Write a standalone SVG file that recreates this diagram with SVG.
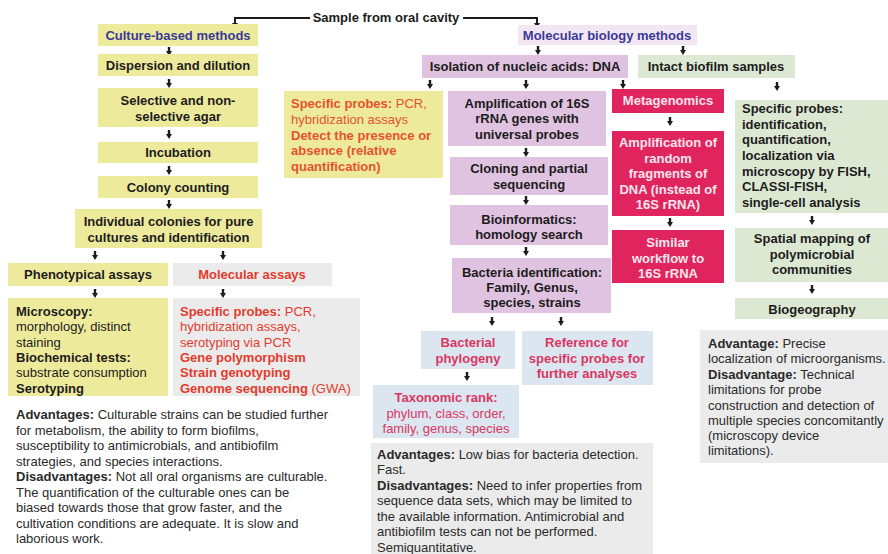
<svg xmlns="http://www.w3.org/2000/svg" xmlns:xlink="http://www.w3.org/1999/xlink" width="888" height="554" viewBox="0 0 888 554">
<style>
text{font-family:"Liberation Sans",Arial,sans-serif;font-size:13px;fill:#1c1c1c}
.c{text-anchor:middle}
.b{font-weight:bold}
.blue{fill:#3a3a98}
.org{fill:#e5532b}
.red{fill:#e23b2e}
.crim{fill:#d93660}
.wh{fill:#fbe6ec}
.body{fill:#2a2a2a}
.yel{fill:#eeea9c}
.lil{fill:#e0c3e0}
.lil2{fill:#f2e6f2}
.grn{fill:#dde8d3}
.pink{fill:#e0245e}
.lb{fill:#dce6f1}
.gry{fill:#ebebeb}
.ln{fill:none;stroke:#1c1c1c;stroke-width:2}
</style>
<defs>
<path id="arr" d="M-1.2,0 H1.2 V4 H3 L0,9 L-3,4 H-1.2 Z" fill="#1c1c1c"/>
</defs>
<rect width="888" height="554" fill="#ffffff"/>

<g id="connectors">
<path class="ln" d="M235,27 V18 H310"/>
<path class="ln" d="M463,18 H537 V27"/>
<path d="M232,23 H238 L235,28 Z" fill="#1c1c1c"/>
<path d="M534,23 H540 L537,28 Z" fill="#1c1c1c"/>
<use xlink:href="#arr" x="169" y="47"/>
<use xlink:href="#arr" x="169" y="79"/>
<use xlink:href="#arr" x="169" y="130"/>
<use xlink:href="#arr" x="169" y="166"/>
<use xlink:href="#arr" x="169" y="200"/>
<use xlink:href="#arr" x="95" y="251"/>
<use xlink:href="#arr" x="223" y="251"/>
<use xlink:href="#arr" x="95" y="289"/>
<use xlink:href="#arr" x="223" y="289"/>
<use xlink:href="#arr" x="538" y="46"/>
<use xlink:href="#arr" x="683" y="46"/>
<use xlink:href="#arr" x="430" y="80"/>
<use xlink:href="#arr" x="526" y="80"/>
<use xlink:href="#arr" x="623" y="80"/>
<use xlink:href="#arr" x="777" y="82"/>
<use xlink:href="#arr" x="526" y="148"/>
<use xlink:href="#arr" x="526" y="196"/>
<use xlink:href="#arr" x="526" y="247"/>
<use xlink:href="#arr" x="492" y="317"/>
<use xlink:href="#arr" x="561" y="317"/>
<use xlink:href="#arr" x="467" y="372"/>
<use xlink:href="#arr" x="670" y="117"/>
<use xlink:href="#arr" x="670" y="218"/>
<use xlink:href="#arr" x="812" y="216"/>
<use xlink:href="#arr" x="812" y="285"/>
</g>

<g id="sample"><text class="b c" x="386" y="22">Sample from oral cavity</text></g>

<g id="culture"><rect class="yel" x="98" y="24" width="160" height="22"/><text class="b c blue" x="178" y="40">Culture-based methods</text></g>
<g id="dispersion"><rect class="yel" x="98" y="54" width="160" height="22"/><text class="b c" x="178" y="70">Dispersion and dilution</text></g>
<g id="agar"><rect class="yel" x="98" y="88" width="160" height="39"/><text class="b c" x="178" y="105">Selective and non-</text><text class="b c" x="178" y="121">selective agar</text></g>
<g id="incubation"><rect class="yel" x="98" y="142" width="160" height="21"/><text class="b c" x="178" y="157">Incubation</text></g>
<g id="colony"><rect class="yel" x="98" y="176" width="160" height="22"/><text class="b c" x="178" y="192">Colony counting</text></g>
<g id="individual"><rect class="yel" x="75" y="209" width="187" height="39"/><text class="b c" x="168.5" y="226">Individual colonies for pure</text><text class="b c" x="168.5" y="242">cultures and identification</text></g>
<g id="phenotypical"><rect class="yel" x="8" y="263" width="160" height="23"/><text class="b c" x="88" y="279">Phenotypical assays</text></g>
<g id="molassays"><rect class="gry" x="173" y="263" width="159" height="23"/><text class="b c red" x="252" y="279">Molecular assays</text></g>
<g id="microscopy"><rect class="yel" x="8" y="298" width="160" height="98"/>
<text x="16" y="316" class="b">Microscopy:</text>
<text x="16" y="331">morphology, distinct</text>
<text x="16" y="347">staining</text>
<text x="16" y="362" class="b">Biochemical tests:</text>
<text x="16" y="377">substrate consumption</text>
<text x="16" y="393" class="b">Serotyping</text></g>
<g id="molprobes"><rect class="gry" x="173" y="298" width="187" height="98"/>
<text x="180" y="316" class="red"><tspan class="b">Specific probes:</tspan> PCR,</text>
<text x="180" y="331" class="red">hybridization assays,</text>
<text x="180" y="347" class="red">serotyping via PCR</text>
<text x="180" y="362" class="red b">Gene polymorphism</text>
<text x="180" y="377" class="red b">Strain genotyping</text>
<text x="180" y="393" class="red"><tspan class="b">Genome sequencing</tspan> (GWA)</text></g>
<g id="culture-adv">
<text x="16" y="419" class="body"><tspan class="b">Advantages:</tspan> Culturable strains can be studied further</text>
<text x="16" y="434.5" class="body">for metabolism, the ability to form biofilms,</text>
<text x="16" y="450" class="body">susceptibility to antimicrobials, and antibiofilm</text>
<text x="16" y="465.5" class="body">strategies, and species interactions.</text>
<text x="16" y="481" class="body"><tspan class="b">Disadvantages:</tspan> Not all oral organisms are culturable.</text>
<text x="16" y="496.5" class="body">The quantification of the culturable ones can be</text>
<text x="16" y="512" class="body">biased towards those that grow faster, and the</text>
<text x="16" y="527.5" class="body">cultivation conditions are adequate. It is slow and</text>
<text x="16" y="543" class="body">laborious work.</text></g>

<g id="molbio"><rect class="lil2" x="518" y="25" width="179" height="20"/><text class="b c blue" x="607" y="40">Molecular biology methods</text></g>
<g id="isolation"><rect class="lil" x="422" y="55" width="206" height="23"/><text class="b c" x="525" y="71">Isolation of nucleic acids: DNA</text></g>
<g id="intact"><rect class="grn" x="638" y="55" width="157" height="23"/><text class="b c" x="716" y="71">Intact biofilm samples</text></g>
<g id="specprobes"><rect class="yel" x="284" y="91" width="159" height="87"/>
<text x="291" y="108" class="org"><tspan class="b">Specific probes:</tspan> PCR,</text>
<text x="291" y="124" class="org">hybridization assays</text>
<text x="291" y="140" class="org b">Detect the presence or</text>
<text x="291" y="155" class="org b">absence (relative</text>
<text x="291" y="171" class="org b">quantification)</text></g>
<g id="amp16s"><rect class="lil" x="448" y="91" width="158" height="55"/><text class="b c" x="527" y="108">Amplification of 16S</text><text class="b c" x="527" y="123">rRNA genes with</text><text class="b c" x="527" y="139">universal probes</text></g>
<g id="cloning"><rect class="lil" x="450" y="157" width="158" height="38"/><text class="b c" x="529" y="173">Cloning and partial</text><text class="b c" x="529" y="189">sequencing</text></g>
<g id="bioinf"><rect class="lil" x="450" y="205" width="158" height="40"/><text class="b c" x="529" y="224">Bioinformatics:</text><text class="b c" x="529" y="239">homology search</text></g>
<g id="bactid"><rect class="lil" x="452" y="258" width="159" height="55"/><text class="b c" x="532" y="276.5">Bacteria identification:</text><text class="b c" x="532" y="291.5">Family, Genus,</text><text class="b c" x="532" y="307">species, strains</text></g>
<g id="phylogeny"><rect class="lb" x="421" y="331" width="94" height="38"/><text class="b c crim" x="468" y="347">Bacterial</text><text class="b c crim" x="468" y="363">phylogeny</text></g>
<g id="reference"><rect class="lb" x="522" y="331" width="131" height="54"/><text class="b c crim" x="587" y="347">Reference for</text><text class="b c crim" x="587" y="363">specific probes for</text><text class="b c crim" x="587" y="378">further analyses</text></g>
<g id="taxonomic"><rect class="lb" x="373" y="385" width="146" height="53"/><text class="b c crim" x="446" y="401.5">Taxonomic rank:</text><text class="c crim" x="446" y="417.5">phylum, class, order,</text><text class="c crim" x="446" y="432.5">family, genus, species</text></g>
<g id="mol-adv"><rect class="gry" x="371" y="443" width="282" height="111"/>
<text x="377" y="458.5" class="body"><tspan class="b">Advantages:</tspan> Low bias for bacteria detection.</text>
<text x="377" y="474" class="body">Fast.</text>
<text x="377" y="489.5" class="body"><tspan class="b">Disadvantages:</tspan> Need to infer properties from</text>
<text x="377" y="505" class="body">sequence data sets, which may be limited to</text>
<text x="377" y="520.5" class="body">the available information. Antimicrobial and</text>
<text x="377" y="536" class="body">antibiofilm tests can not be performed.</text>
<text x="377" y="551.5" class="body">Semiquantitative.</text></g>

<g id="metagenomics"><rect class="pink" x="612" y="89" width="112" height="24"/><text class="b c wh" x="668" y="105">Metagenomics</text></g>
<g id="amprandom"><rect class="pink" x="612" y="131" width="112" height="85"/><text class="b c wh" x="668" y="146.5">Amplification of</text><text class="b c wh" x="668" y="162.5">random</text><text class="b c wh" x="668" y="178">fragments of</text><text class="b c wh" x="668" y="193.5">DNA (instead of</text><text class="b c wh" x="668" y="208.5">16S rRNA)</text></g>
<g id="similar"><rect class="pink" x="612" y="230" width="112" height="53"/><text class="b c wh" x="668" y="246.5">Similar</text><text class="b c wh" x="668" y="262.5">workflow to</text><text class="b c wh" x="668" y="277.5">16S rRNA</text></g>

<g id="fish"><rect class="grn" x="735" y="100" width="153" height="113"/>
<text x="742" y="112.5" class="b">Specific probes:</text>
<text x="742" y="128.5" class="b">identification,</text>
<text x="742" y="144" class="b">quantification,</text>
<text x="742" y="159.5" class="b">localization via</text>
<text x="742" y="175.5" class="b">microscopy by FISH,</text>
<text x="742" y="190.5" class="b">CLASSI-FISH,</text>
<text x="742" y="206.5" class="b">single-cell analysis</text></g>
<g id="spatial"><rect class="grn" x="735" y="228" width="153" height="54"/><text class="b c" x="812" y="243">Spatial mapping of</text><text class="b c" x="812" y="258.5">polymicrobial</text><text class="b c" x="812" y="274">communities</text></g>
<g id="biogeo"><rect class="grn" x="735" y="298" width="153" height="21"/><text class="b c" x="812" y="313.5">Biogeography</text></g>
<g id="fish-adv"><rect class="gry" x="700" y="330" width="188" height="133"/>
<text x="708" y="347.5" class="body"><tspan class="b">Advantage:</tspan> Precise</text>
<text x="708" y="362.5" class="body">localization of microorganisms.</text>
<text x="708" y="378.5" class="body"><tspan class="b">Disadvantage:</tspan> Technical</text>
<text x="708" y="393.5" class="body">limitations for probe</text>
<text x="708" y="409.5" class="body">construction and detection of</text>
<text x="708" y="424.5" class="body">multiple species concomitantly</text>
<text x="708" y="439.5" class="body">(microscopy device</text>
<text x="708" y="454.5" class="body">limitations).</text></g>
</svg>
